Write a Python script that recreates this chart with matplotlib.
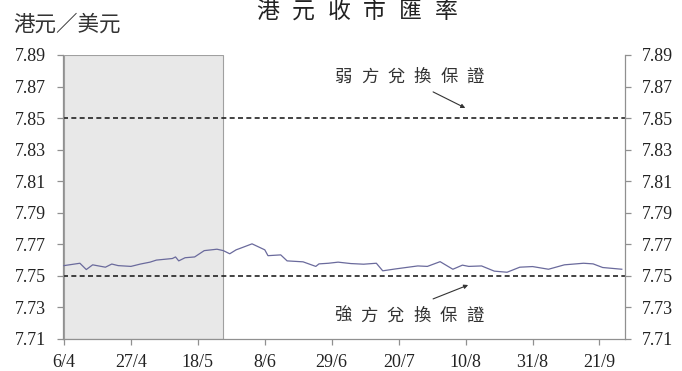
import matplotlib
matplotlib.use("Agg")
import matplotlib.pyplot as plt
import pandas as pd

plt.rcParams["font.family"] = ["Liberation Serif", "Noto Sans CJK TC"]

# --- Daten: HKD/USD Schlusskurse ---
datum = ["2009-04-06", "2009-04-11", "2009-04-13", "2009-04-15", "2009-04-19",
         "2009-04-21", "2009-04-23", "2009-04-27", "2009-04-30", "2009-05-03",
         "2009-05-05", "2009-05-10", "2009-05-11", "2009-05-12", "2009-05-14",
         "2009-05-17", "2009-05-20", "2009-05-24", "2009-05-26", "2009-05-28",
         "2009-05-30", "2009-06-01", "2009-06-04", "2009-06-08", "2009-06-09",
         "2009-06-13", "2009-06-15", "2009-06-20", "2009-06-24", "2009-06-25",
         "2009-06-28", "2009-07-01", "2009-07-05", "2009-07-09", "2009-07-13",
         "2009-07-15", "2009-07-19", "2009-07-26", "2009-07-29", "2009-08-02",
         "2009-08-06", "2009-08-09", "2009-08-11", "2009-08-15", "2009-08-19",
         "2009-08-23", "2009-08-27", "2009-08-31", "2009-09-05", "2009-09-10",
         "2009-09-16", "2009-09-19", "2009-09-22", "2009-09-28"]
kurs = [7.7565, 7.7580, 7.7540, 7.7570, 7.7555,
        7.7575, 7.7565, 7.7560, 7.7575, 7.7587,
        7.7600, 7.7610, 7.7620, 7.7595, 7.7615,
        7.7620, 7.7660, 7.7669, 7.7660, 7.7640,
        7.7665, 7.7680, 7.7703, 7.7665, 7.7628,
        7.7633, 7.7595, 7.7589, 7.7560, 7.7576,
        7.7580, 7.7587, 7.7578, 7.7574, 7.7580,
        7.7532, 7.7544, 7.7563, 7.7560, 7.7590,
        7.7542, 7.7568, 7.7560, 7.7563, 7.7530,
        7.7523, 7.7555, 7.7559, 7.7542, 7.7570,
        7.7580, 7.7576, 7.7553, 7.7542]

schwach = 7.85   # weak-side convertibility undertaking
stark = 7.75     # strong-side convertibility undertaking
grau_start = "2009-04-06"
grau_ende = "2009-05-26"

x_ticks = ["2009-04-06", "2009-04-27", "2009-05-18", "2009-06-08", "2009-06-29",
           "2009-07-20", "2009-08-10", "2009-08-31", "2009-09-21"]
x_labels = ["6/4", "27/4", "18/5", "8/6", "29/6", "20/7", "10/8", "31/8", "21/9"]
y_ticks = [7.71, 7.73, 7.75, 7.77, 7.79, 7.81, 7.83, 7.85, 7.87, 7.89]

datum = pd.to_datetime(datum)
x_ticks = pd.to_datetime(x_ticks)
t0 = pd.Timestamp("2009-04-06")

fig = plt.figure(figsize=(6.82, 3.71), dpi=100)
ax = fig.add_axes([0.0924, 0.0863, 0.824, 0.7655])

# grauer Bereich
ax.axvspan(pd.Timestamp(grau_start), pd.Timestamp(grau_ende), ymin=0, ymax=1,
           facecolor="#e8e8e8", edgecolor="#a0a0a0", linewidth=0.8, zorder=0)

ax.plot(datum, kurs, color="#6a6a9c", linewidth=0.9, zorder=3)
ax.axhline(schwach, color="#222222", linestyle=(0, (3, 2)), linewidth=1.2, zorder=2)
ax.axhline(stark, color="#222222", linestyle=(0, (3, 2)), linewidth=1.2, zorder=2)

ax.set_xlim(t0 - pd.Timedelta(days=0.3), pd.Timestamp("2009-09-29"))
ax.set_ylim(7.71, 7.89)
ax.set_yticks(y_ticks)
ax.set_yticklabels([f"{v:.2f}" for v in y_ticks])
ax.set_xticks(x_ticks)
ax.set_xticklabels(x_labels)

for s in ["left", "right", "bottom"]:
    ax.spines[s].set_color("#909090")
    ax.spines[s].set_linewidth(0.9)
ax.spines["top"].set_visible(False)

ax.tick_params(axis="both", direction="out", length=4, width=0.9, color="#909090",
               labelsize=13, labelcolor="#222222")
ax.tick_params(axis="y", right=True, labelright=True, pad=8)
ax.tick_params(axis="x", pad=7)


def gesperrt(ax, x, y, text, abstand, **kw):
    # Zeichen einzeln mit festem Abstand (in Punkten) setzen
    n = len(text)
    for i, z in enumerate(text):
        ax.annotate(z, xy=(x, y), xytext=((i - (n - 1) / 2) * abstand, 0),
                    textcoords="offset points", ha="center", va="center", **kw)


gesperrt(ax, t0 + pd.Timedelta(days=108.3), 7.8754,
         "弱方兌換保證", 19, fontsize=12.5, color="#333333")
gesperrt(ax, t0 + pd.Timedelta(days=108.1), 7.724,
         "強方兌換保證", 19, fontsize=12.5, color="#333333")

pfeil = dict(arrowstyle="-|>", color="#333333", lw=0.8, mutation_scale=6,
             shrinkA=0, shrinkB=0)
ax.annotate("", xy=(t0 + pd.Timedelta(days=125.9), 7.8564),
            xytext=(t0 + pd.Timedelta(days=115.8), 7.8666), arrowprops=pfeil)
ax.annotate("", xy=(t0 + pd.Timedelta(days=126.8), 7.7442),
            xytext=(t0 + pd.Timedelta(days=115.8), 7.7354), arrowprops=pfeil)

fig.text(0.019, 0.933, "港元／美元", fontsize=15.5, color="#333333",
         ha="left", va="center", family=["Noto Sans CJK TC"])

titel = "港元收市匯率"
for i, z in enumerate(titel):
    fig.text(357 / 682 + (i - 2.5) * 35.6 / 682, 0.968, z, fontsize=16.5,
             color="#222222", ha="center", va="center", family=["Noto Sans CJK TC"])

fig.savefig("out.png", dpi=100)
